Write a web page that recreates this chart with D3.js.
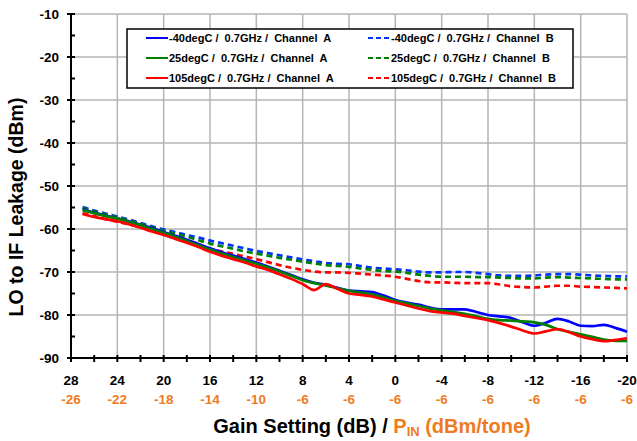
<!DOCTYPE html>
<html>
<head>
<meta charset="utf-8">
<script src="https://cdn.jsdelivr.net/npm/d3@7"></script>
<style>
  body { margin: 0; background: #fff; }
  svg { font-family: "Liberation Sans", Arial, sans-serif; font-weight: bold; }
</style>
</head>
<body>
<svg id="chart" width="637" height="441"></svg>
<script>
// gain setting (dB), one point per dB
const gains = d3.range(27, -21, -1);
const gainTicks = [28, 24, 20, 16, 12, 8, 4, 0, -4, -8, -12, -16, -20];
const pinLabels = [-26, -22, -18, -14, -10, -6, -6, -6, -6, -6, -6, -6, -6];

const m40A = [-55.4,-56.2,-56.9,-57.5,-58.2,-59.0,-59.8,-60.7,-61.6,-62.5,-63.5,-64.5,-65.4,-66.2,-67.0,-67.8,-68.7,-69.7,-70.7,-71.7,-72.5,-73.0,-73.7,-74.3,-74.5,-74.7,-75.5,-76.5,-77.1,-77.6,-78.3,-78.7,-78.7,-78.7,-79.3,-80.0,-80.3,-80.7,-81.7,-82.5,-81.8,-80.9,-81.5,-82.5,-82.6,-82.3,-83.0,-83.9];
const p25A = [-55.6,-56.3,-57.0,-57.6,-58.3,-59.1,-60.0,-60.9,-61.8,-62.8,-63.8,-64.8,-65.7,-66.5,-67.3,-68.1,-68.9,-69.9,-70.9,-71.9,-72.6,-73.1,-73.8,-74.4,-74.8,-75.2,-75.9,-76.7,-77.3,-77.9,-78.5,-78.9,-79.3,-79.7,-80.3,-80.9,-81.2,-81.3,-81.5,-81.7,-82.3,-83.3,-83.9,-84.5,-85.1,-85.7,-86.0,-86.0];
const p105A = [-56.5,-57.2,-57.7,-58.2,-58.9,-59.7,-60.6,-61.4,-62.3,-63.2,-64.2,-65.3,-66.2,-67.0,-67.8,-68.7,-69.5,-70.5,-71.6,-72.8,-74.2,-72.8,-73.9,-75.0,-75.3,-75.7,-76.4,-77.1,-77.8,-78.5,-79.1,-79.4,-79.7,-80.2,-80.7,-81.2,-81.9,-82.7,-83.6,-84.3,-83.8,-83.3,-84.0,-85.0,-85.6,-86.1,-85.8,-85.4];
const m40B = [-54.9,-55.7,-56.4,-57.1,-57.8,-58.6,-59.4,-60.1,-60.7,-61.4,-62.0,-62.7,-63.3,-63.9,-64.5,-65.1,-65.6,-66.1,-66.6,-67.1,-67.5,-67.9,-68.1,-68.2,-68.6,-69.0,-69.2,-69.4,-69.6,-69.9,-70.1,-70.1,-70.0,-70.0,-70.2,-70.5,-70.8,-70.9,-70.9,-70.8,-70.6,-70.5,-70.5,-70.6,-70.8,-70.9,-71.0,-71.0];
const p25B = [-55.1,-55.9,-56.6,-57.3,-58.0,-58.8,-59.6,-60.4,-61.1,-61.8,-62.6,-63.4,-64.0,-64.6,-65.2,-65.7,-66.2,-66.7,-67.1,-67.6,-68.0,-68.4,-68.6,-68.8,-69.2,-69.5,-69.8,-69.9,-70.2,-70.6,-70.9,-71.1,-71.1,-71.1,-71.2,-71.2,-71.3,-71.4,-71.5,-71.5,-71.3,-71.2,-71.3,-71.4,-71.5,-71.6,-71.7,-71.7];
const p105B = [-56.3,-57.0,-57.7,-58.3,-58.9,-59.6,-60.3,-61.0,-61.8,-62.6,-63.6,-64.6,-65.2,-65.8,-66.4,-67.0,-67.7,-68.4,-69.0,-69.5,-69.9,-70.1,-70.1,-70.2,-70.4,-70.6,-70.8,-71.1,-71.6,-72.1,-72.4,-72.4,-72.5,-72.6,-72.6,-72.6,-72.9,-73.3,-73.5,-73.6,-73.4,-73.2,-73.2,-73.4,-73.5,-73.6,-73.7,-73.8];

const series = [
  { label: "-40degC /  0.7GHz /  Channel  A", color: "#0000ff", dash: null, values: m40A },
  { label: "25degC /  0.7GHz /  Channel  A",  color: "#008000", dash: null, values: p25A },
  { label: "105degC /  0.7GHz /  Channel  A", color: "#ff0000", dash: null, values: p105A },
  { label: "-40degC /  0.7GHz /  Channel  B", color: "#0033ff", dash: "6,4", values: m40B },
  { label: "25degC /  0.7GHz /  Channel  B",  color: "#008000", dash: "6,4", values: p25B },
  { label: "105degC /  0.7GHz /  Channel  B", color: "#ff0000", dash: "6,4", values: p105B }
];

const svg = d3.select('#chart');
const L = 71, R = 627, T = 14, B = 358;
const orange = "#ee7b22";

const x = d3.scaleLinear().domain([28, -20]).range([L, R]);
const y = d3.scaleLinear().domain([-90, -10]).range([B, T]);

// grid
const grid = svg.append('g').attr('stroke', '#b4b4b4').attr('stroke-width', 1.5);
grid.selectAll('line.h').data(d3.range(-80, -9, 10)).join('line')
  .attr('x1', L).attr('x2', R).attr('y1', d => y(d)).attr('y2', d => y(d));
grid.selectAll('line.v').data(gainTicks.slice(1)).join('line')
  .attr('y1', T).attr('y2', B).attr('x1', d => x(d)).attr('x2', d => x(d));

// series lines
const line = d3.line().x((d, i) => x(gains[i])).y(d => y(d)).curve(d3.curveMonotoneX);
// draw B (dashed) first, then A on top
[3, 4, 5, 0, 1, 2].forEach(k => {
  const s = series[k];
  svg.append('path').datum(s.values)
    .attr('d', line).attr('fill', 'none')
    .attr('stroke', s.color).attr('stroke-width', 2.7)
    .attr('stroke-dasharray', s.dash);
});

// y axis
const yAxis = svg.append('g').attr('stroke', '#000').attr('stroke-width', 2);
yAxis.append('line').attr('x1', L).attr('x2', L).attr('y1', T).attr('y2', B);
yAxis.selectAll('line.maj').data(d3.range(-90, -9, 10)).join('line')
  .attr('x1', L - 4).attr('x2', L + 4).attr('y1', d => y(d)).attr('y2', d => y(d));
yAxis.selectAll('line.min').data(d3.range(-85, -10, 10)).join('line')
  .attr('x1', L).attr('x2', L + 4).attr('y1', d => y(d)).attr('y2', d => y(d));
svg.append('g').selectAll('text').data(d3.range(-90, -9, 10)).join('text')
  .attr('x', L - 12).attr('y', d => y(d) + 5)
  .attr('text-anchor', 'end').attr('font-size', 13.5).text(d => d);

// x axis
const xAxis = svg.append('g').attr('stroke', '#000').attr('stroke-width', 2);
xAxis.append('line').attr('x1', L).attr('x2', R).attr('y1', B).attr('y2', B);
xAxis.selectAll('line.t').data(d3.range(28, -21, -2)).join('line')
  .attr('x1', d => x(d)).attr('x2', d => x(d)).attr('y1', B - 3).attr('y2', B + 4);
svg.append('g').selectAll('text').data(gainTicks).join('text')
  .attr('x', d => x(d)).attr('y', 385)
  .attr('text-anchor', 'middle').attr('font-size', 13.5).text(d => d);
svg.append('g').selectAll('text').data(pinLabels).join('text')
  .attr('x', (d, i) => x(gainTicks[i])).attr('y', 404)
  .attr('text-anchor', 'middle').attr('font-size', 13.5).attr('fill', orange).text(d => d);

// axis titles
svg.append('text')
  .attr('transform', 'translate(23,207) rotate(-90)')
  .attr('text-anchor', 'middle').attr('font-size', 19.5)
  .text('LO to IF Leakage (dBm)');
const xt = svg.append('text').attr('x', 372).attr('y', 433)
  .attr('text-anchor', 'middle').attr('font-size', 20);
xt.append('tspan').text('Gain Setting (dB) / ');
xt.append('tspan').attr('fill', orange).text('P');
xt.append('tspan').attr('fill', orange).attr('font-size', 13).attr('dy', 3).text('IN');
xt.append('tspan').attr('fill', orange).attr('dy', -3).text(' (dBm/tone)');

// legend
const lg = svg.append('g');
lg.append('rect').attr('x', 127).attr('y', 29).attr('width', 446).attr('height', 59)
  .attr('fill', '#fff').attr('stroke', '#000').attr('stroke-width', 1.5);
series.forEach((s, i) => {
  const col = Math.floor(i / 3), row = i % 3;
  const lx = col ? 368 : 146, ly = 38 + row * 20;
  lg.append('line').attr('x1', lx).attr('x2', lx + 22).attr('y1', ly).attr('y2', ly)
    .attr('stroke', s.color).attr('stroke-width', 2).attr('stroke-dasharray', s.dash ? '5,3' : null);
  lg.append('text').attr('x', lx + 23).attr('y', ly + 4).attr('font-size', 11)
    .style('white-space', 'pre').text(s.label);
});
</script>
</body>
</html>
